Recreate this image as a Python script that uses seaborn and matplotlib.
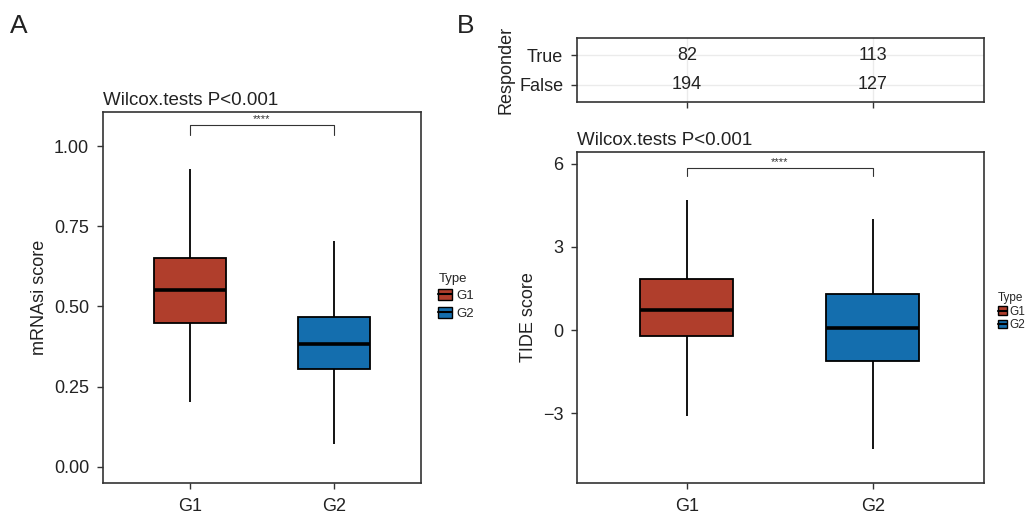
import numpy as np
import pandas as pd
import matplotlib
matplotlib.use("Agg")
import matplotlib.pyplot as plt
import seaborn as sns
from matplotlib.patches import Patch
from matplotlib.lines import Line2D
from matplotlib.legend_handler import HandlerTuple

# five-number summaries (min, Q1, median, Q3, max)
groups = ["G1", "G2"]
mrnasi_g1 = [0.203, 0.450, 0.552, 0.652, 0.927]
mrnasi_g2 = [0.072, 0.304, 0.384, 0.466, 0.705]
tide_g1 = [-3.08, -0.205, 0.72, 1.825, 4.68]
tide_g2 = [-4.27, -1.13, 0.06, 1.30, 4.02]

# responder counts per group
responder_levels = ["False", "True"]
resp_g1 = [194, 82]
resp_g2 = [127, 113]

colors = {"G1": "#B03E2C", "G2": "#146EAE"}
dark = "#333333"
txt = "#222222"
fs = 13

sns.set_style("white")
plt.rcParams["font.family"] = ["Liberation Sans", "DejaVu Sans"]

fig = plt.figure(figsize=(10.33, 5.19), dpi=100)


def boxes(ax, g1, g2):
    df = pd.DataFrame({
        "Type": ["G1"] * len(g1) + ["G2"] * len(g2),
        "score": g1 + g2,
    })
    sns.boxplot(data=df, x="Type", y="score", hue="Type", palette=colors,
                order=groups, width=0.5, whis=(0, 100), showcaps=False,
                saturation=1, linecolor="black", linewidth=1.3, legend=False,
                ax=ax, medianprops=dict(linewidth=2.6, color="black"))


def style(ax):
    for s in ax.spines.values():
        s.set_visible(True)
        s.set_color(dark)
        s.set_linewidth(1.2)
    ax.tick_params(axis="both", length=4, width=1, color=dark,
                   labelsize=fs, labelcolor=txt, left=True, bottom=True)
    ax.tick_params(axis="x", pad=7)
    ax.tick_params(axis="y", pad=6)


def bracket(ax, y0, y1, ytxt):
    ax.plot([0, 0, 1, 1], [y0, y1, y1, y0], color=dark, lw=0.8)
    ax.text(0.5, ytxt, "****", ha="center", va="bottom", fontsize=8, color=dark)


# ---- panel A ----
axA = fig.add_axes([0.0997, 0.0694, 0.3078, 0.7148])
boxes(axA, mrnasi_g1, mrnasi_g2)
style(axA)
axA.set_xlim(-0.6, 1.6)
axA.set_ylim(-0.05, 1.106)
axA.set_yticks([0, 0.25, 0.5, 0.75, 1.0])
axA.set_yticklabels(["0.00", "0.25", "0.50", "0.75", "1.00"])
axA.set_xlabel("")
axA.set_ylabel("mRNAsi score", fontsize=fs, color=txt)
axA.set_title("Wilcox.tests P<0.001", loc="left", fontsize=13.5, pad=5, color=txt)
bracket(axA, 1.035, 1.065, 1.068)

# ---- panel B, table ----
axT = fig.add_axes([0.5586, 0.8035, 0.394, 0.1233])
style(axT)
axT.set_xlim(-0.59, 1.597)
axT.set_ylim(-0.6, 1.6)
axT.set_xticks([0, 1])
axT.set_xticklabels([])
axT.set_yticks([0, 1])
axT.set_yticklabels(responder_levels)
for v in [0, 1]:
    axT.axhline(v, color="#EBEBEB", lw=1, zorder=0)
    axT.axvline(v, color="#EBEBEB", lw=1, zorder=0)
for i, counts in enumerate([resp_g1, resp_g2]):
    for j, n in enumerate(counts):
        axT.text(i, j, str(n), ha="center", va="center", fontsize=fs, color=txt)
axT.set_ylabel("Responder", fontsize=fs, color=txt, labelpad=3)

# ---- panel B, boxes ----
axB = fig.add_axes([0.5586, 0.0694, 0.394, 0.6378])
boxes(axB, tide_g1, tide_g2)
style(axB)
axB.set_xlim(-0.59, 1.597)
axB.set_ylim(-5.51, 6.42)
axB.set_yticks([-3, 0, 3, 6])
axB.set_xlabel("")
axB.set_ylabel("TIDE score", fontsize=fs, color=txt)
axB.set_title("Wilcox.tests P<0.001", loc="left", fontsize=13.5, pad=5, color=txt)
bracket(axB, 5.54, 5.85, 5.88)

# ---- legends ----
handles = [(Patch(facecolor=colors[g], edgecolor="black", lw=1),
            Line2D([], [], color="black", lw=1.5)) for g in groups]
fig.legend(handles, groups, title="Type", loc="upper left",
           bbox_to_anchor=(0.418, 1 - 266 / 519), frameon=False,
           fontsize=9.5, title_fontsize=9.5, handlelength=1.0, handleheight=0.9,
           handletextpad=0.4, labelspacing=0.35, borderpad=0,
           handler_map={tuple: HandlerTuple(ndivide=1)}, alignment="left")
fig.legend(handles, groups, title="Type", loc="upper left",
           bbox_to_anchor=(0.96, 1 - 286 / 519), frameon=False,
           fontsize=8.5, title_fontsize=8.5, handlelength=0.8, handleheight=0.7,
           handletextpad=0.2, labelspacing=0.15, borderpad=0,
           handler_map={tuple: HandlerTuple(ndivide=1)}, alignment="left")

fig.text(10 / 1033, 1 - 33 / 519, "A", fontsize=19, color=txt)
fig.text(457 / 1033, 1 - 33 / 519, "B", fontsize=19, color=txt)

fig.savefig("out.png", dpi=100)
